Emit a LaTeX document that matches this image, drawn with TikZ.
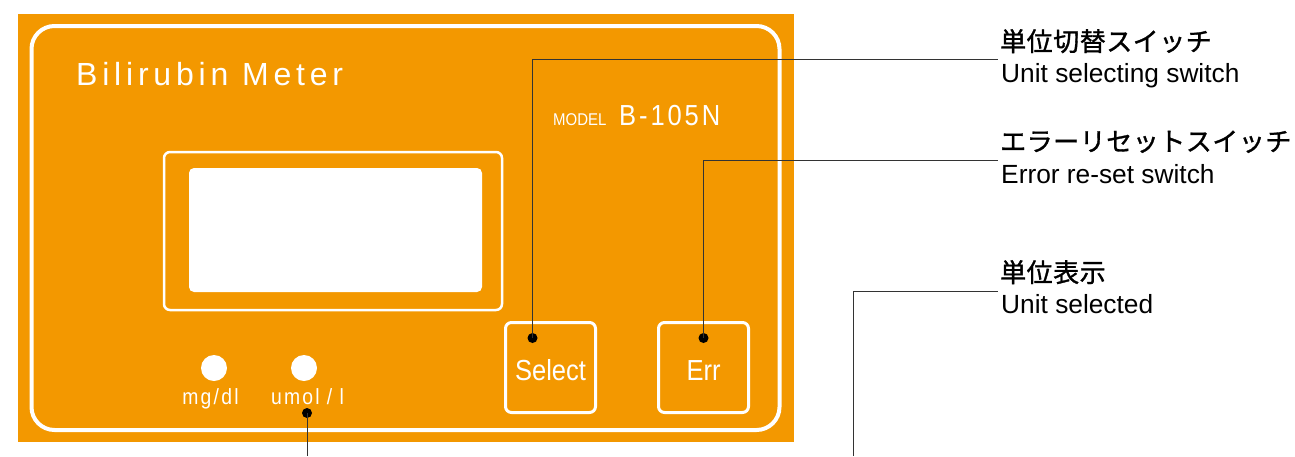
\documentclass[tikz,border=0pt]{standalone}
\usepackage{fontspec}
\setmainfont{Liberation Sans}
\newfontfamily\jpfont{Noto Sans CJK JP}[FakeBold=1.2,LetterSpace=2]
\newfontfamily\panelfont{Liberation Sans}[FakeStretch=0.88]
\newfontfamily\spacedfont{Liberation Sans}[FakeStretch=0.88,LetterSpace=10]
\newfontfamily\titlefont{Liberation Sans}[LetterSpace=15]
\usepackage{tikz}
\definecolor{meter}{HTML}{F39800}

\begin{document}
\begin{tikzpicture}[x=1pt,y=-1pt,
    btn/.style={draw=white,line width=3pt,rounded corners=6pt,minimum width=90pt,minimum height=90pt,inner sep=0pt,text height=25pt,text depth=0pt,text=white,font=\panelfont\fontsize{29}{32}\selectfont},
    lamp/.style={circle,fill=white,minimum size=26pt,inner sep=0pt},
    dot/.style={circle,fill=black,minimum size=10pt,inner sep=0pt},
    unit/.style={anchor=base,inner sep=0pt,text=white,font=\spacedfont\fontsize{22}{26}\selectfont},
    jplabel/.style={anchor=base west,inner sep=0pt,font=\jpfont\fontsize{26}{30}\selectfont},
    enlabel/.style={anchor=base west,inner sep=0pt,font=\fontsize{26.3}{30}\selectfont},
    leader/.style={black!80,line width=0.9pt}]
        \useasboundingbox (0,0) rectangle (1295,456);

        %%% PANEL %%%
        \fill[meter] (18,14) rectangle (794,442);
        \draw[white,line width=4pt,rounded corners=23pt] (31.5,26) rectangle (779.5,430);
        \node[anchor=base west,inner sep=0pt,text=white,font=\titlefont\fontsize{32}{36}\selectfont] (title) at (76,85) {Bilirubin Meter};
        \node[anchor=base west,inner sep=0pt,text=white,font=\panelfont\fontsize{17}{20}\selectfont] (model) at (553,125) {MODEL};
        \node[anchor=base west,inner sep=0pt,text=white,font=\spacedfont\fontsize{29}{32}\selectfont] (modelno) at (619,125) {B-105N};

        %%% DISPLAY %%%
        \draw[white,line width=2.5pt,rounded corners=6pt] (164,152) rectangle (502,310);
        \fill[white,rounded corners=5pt] (189,168) rectangle (482,292);

        %%% BUTTONS AND LAMPS %%%
        \node[btn] (select) at (550.5,367.5) {Select};
        \node[btn] (err) at (703.5,367.5) {Err};
        \node[lamp] (mgdl) at (214,368) {};
        \node[lamp] (umol) at (304,368) {};
        \node[unit] (mgdltext) at (210.5,404) {mg/dl};
        \node[unit] (umoltext) at (307.5,404) {umol\,\,/\,\,l};

        %%% LABELS %%%
        \node[jplabel] (selJP) at (1000,51) {単位切替スイッチ};
        \node[enlabel] (selEN) at (1001,82) {Unit selecting switch};
        \node[jplabel] (errJP) at (1000,151) {エラーリセットスイッチ};
        \node[enlabel] (errEN) at (1001,183) {Error re-set switch};
        \node[jplabel] (unitJP) at (1000,282) {単位表示};
        \node[enlabel] (unitEN) at (1001,313) {Unit selected};

        %%% LEADERS %%%
        \node[dot] (seldot) at (532.5,338) {};
        \node[dot] (errdot) at (703.5,338) {};
        \node[dot] (umoldot) at (307,413) {};
        \coordinate (selend) at (998,59);
        \coordinate (errend) at (998,160);
        \coordinate (unitend) at (998,291);
        \coordinate (unitstart) at (853,456);
        \coordinate (umolend) at (307,456);
        \draw[leader] (seldot.center) |- (selend);
        \draw[leader] (errdot.center) |- (errend);
        \draw[leader] (unitstart) |- (unitend);
        \draw[leader] (umoldot.center) -- (umolend);
    \end{tikzpicture}
\end{document}
